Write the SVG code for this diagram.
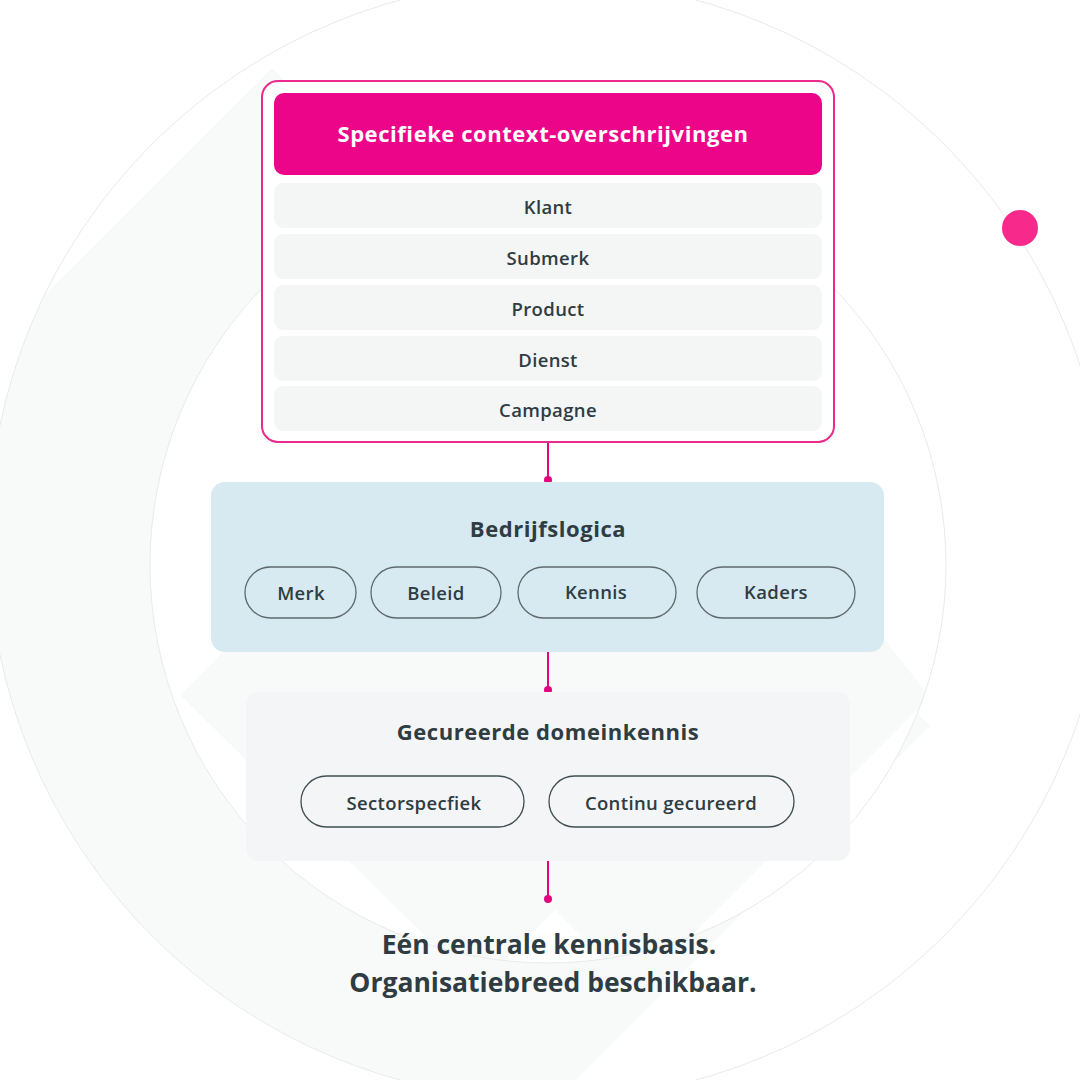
<svg xmlns="http://www.w3.org/2000/svg" width="1080" height="1080" viewBox="0 0 1080 1080">
<style>
.t{font-family:"Open Sans","Liberation Sans",sans-serif;fill:#2f3c42;text-anchor:middle}
.hd{font-size:22px;font-weight:700;letter-spacing:0.55px}
.rw{font-size:18.5px;font-weight:600;letter-spacing:0.35px}
.row{fill:#f4f5f5}
.pill{fill:none;stroke:#5e6a6e;stroke-width:1.3}
.pill2{fill:none;stroke:#3f4d52;stroke-width:1.3}
.con{stroke:#e4067f;stroke-width:2}
.dot{fill:#e4067f}
.bg{fill:#f8f9f9}
</style>
<defs>
<clipPath id="outerC"><circle cx="548" cy="540" r="560"/></clipPath>
<clipPath id="innerC"><circle cx="548" cy="565" r="398"/></clipPath>
</defs>
<rect width="1080" height="1080" fill="#ffffff"/>
<g id="background">
<polygon class="bg" clip-path="url(#outerC)" points="272,68 930,726 272,1384 -386,726"/>
<circle cx="548" cy="565" r="398" fill="#ffffff"/>
<g clip-path="url(#innerC)">
<polygon class="bg" points="180,695 235,640 885,640 930,697 559,1068"/>
<polygon fill="#ffffff" points="555,910 705,1060 555,1210 405,1060"/>
</g>
<circle cx="548" cy="540" r="560" fill="none" stroke="#e9eaea" stroke-width="1"/>
<circle cx="548" cy="565" r="398" fill="none" stroke="#e9eaea" stroke-width="1"/>
<circle cx="1020" cy="228" r="18" fill="#f72a8c"/>
</g>
<g id="connectors">
<line class="con" x1="548" y1="442" x2="548" y2="480"/>
<circle class="dot" cx="548" cy="480" r="4"/>
<line class="con" x1="548" y1="652" x2="548" y2="690"/>
<circle class="dot" cx="548" cy="690" r="4"/>
<line class="con" x1="548" y1="861" x2="548" y2="899"/>
<circle class="dot" cx="548" cy="899" r="4"/>
</g>
<g id="node-overrides">
<rect x="262" y="81" width="572" height="361" rx="16" fill="#ffffff" stroke="#ec2a8c" stroke-width="2"/>
<rect x="274" y="93" width="548" height="82" rx="10" fill="#ec0588"/>
<text class="t hd" x="543" y="142" style="fill:#ffffff">Specifieke context-overschrijvingen</text>
<rect class="row" x="274" y="183" width="548" height="45" rx="9"/>
<text class="t rw" x="548" y="214">Klant</text>
<rect class="row" x="274" y="234" width="548" height="45" rx="9"/>
<text class="t rw" x="548" y="265">Submerk</text>
<rect class="row" x="274" y="285" width="548" height="45" rx="9"/>
<text class="t rw" x="548" y="316">Product</text>
<rect class="row" x="274" y="336" width="548" height="45" rx="9"/>
<text class="t rw" x="548" y="367">Dienst</text>
<rect class="row" x="274" y="386" width="548" height="45" rx="9"/>
<text class="t rw" x="548" y="417">Campagne</text>
</g>
<g id="node-bedrijfslogica">
<rect x="211" y="482" width="673" height="170" rx="14" fill="#d8eaf1"/>
<text class="t hd" x="548" y="537">Bedrijfslogica</text>
<rect class="pill" x="245" y="567" width="111" height="51" rx="25.5"/>
<text class="t rw" x="301" y="600">Merk</text>
<rect class="pill" x="371" y="567" width="130" height="51" rx="25.5"/>
<text class="t rw" x="436" y="600">Beleid</text>
<rect class="pill" x="518" y="567" width="158" height="51" rx="25.5"/>
<text class="t rw" x="596" y="599">Kennis</text>
<rect class="pill" x="697" y="567" width="158" height="51" rx="25.5"/>
<text class="t rw" x="776" y="599">Kaders</text>
</g>
<g id="node-domeinkennis">
<rect x="246" y="692" width="604" height="169" rx="12" fill="#f4f5f6"/>
<text class="t hd" x="548" y="740">Gecureerde domeinkennis</text>
<rect class="pill2" x="301" y="776" width="223" height="51" rx="25.5"/>
<text class="t rw" x="414" y="810">Sectorspecfiek</text>
<rect class="pill2" x="549" y="776" width="245" height="51" rx="25.5"/>
<text class="t rw" x="671" y="810">Continu gecureerd</text>
</g>
<g id="footer">
<text class="t" x="549" y="954" style="font-size:26.5px;font-weight:700">Eén centrale kennisbasis.</text>
<text class="t" x="553" y="992" style="font-size:26.5px;font-weight:700">Organisatiebreed beschikbaar.</text>
</g>
</svg>
